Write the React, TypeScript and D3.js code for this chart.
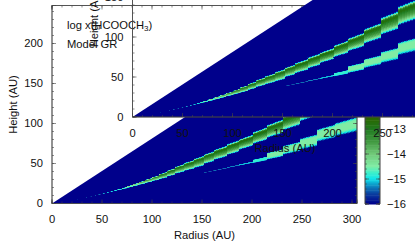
import { useEffect, useRef } from 'react';
import * as d3 from 'd3';

// radial bin edges of the model grid (AU)
const radiusEdges = [24, 26, 28, 30, 32, 35, 37, 40, 43, 46, 49, 53, 57, 61, 65, 70, 75, 81, 87, 93, 100, 107, 115, 123, 132, 142, 152, 162, 175, 187, 201, 215, 231, 248, 265, 283, 305];

// upper layer: z/r limits and peak log x per radial bin
const upperLow = [0.19, 0.195, 0.2, 0.205, 0.21, 0.215, 0.218, 0.22, 0.225, 0.23, 0.232, 0.235, 0.24, 0.243, 0.247, 0.25, 0.255, 0.26, 0.265, 0.27, 0.275, 0.28, 0.29, 0.3, 0.305, 0.31, 0.325, 0.335, 0.345, 0.358, 0.37, 0.38, 0.395, 0.413, 0.43, 0.44];
const upperHigh = [0.2, 0.205, 0.21, 0.215, 0.22, 0.225, 0.228, 0.232, 0.237, 0.243, 0.248, 0.252, 0.258, 0.264, 0.27, 0.278, 0.29, 0.3, 0.31, 0.32, 0.33, 0.345, 0.36, 0.375, 0.385, 0.395, 0.405, 0.415, 0.425, 0.43, 0.445, 0.457, 0.475, 0.5, 0.52, 0.53];
const upperPeak = [-15.8, -15.75, -15.7, -15.65, -15.6, -15.55, -15.5, -15.45, -15.4, -15.3, -15.2, -15.1, -15, -14.9, -14.7, -14.5, -14.2, -14, -13.7, -13.5, -13.3, -13.1, -13, -13, -12.9, -12.9, -12.9, -12.8, -12.8, -12.8, -12.8, -12.8, -12.8, -12.8, -12.8, -12.8];

// lower layer starts further out
const lowerEdges = [152, 162, 175, 187, 201, 215, 231, 248, 265, 283, 305];
const lowerLow = [0.25, 0.25, 0.252, 0.252, 0.25, 0.254, 0.263, 0.27, 0.29, 0.295];
const lowerHigh = [0.256, 0.257, 0.26, 0.262, 0.273, 0.295, 0.312, 0.327, 0.35, 0.355];
const lowerPeak = [-15.5, -15.4, -15.3, -15.1, -14.8, -14.5, -14.5, -14.5, -14.5, -14.5];

// vertical shape of a layer, bottom to top, fraction of (peak - floor)
const upperProfile = [0.1, 0.3, 0.42, 0.52, 0.6, 0.66, 0.72, 0.76, 0.8, 0.84, 0.88, 0.92, 0.96, 1, 1, 0.95, 0.78, 0.55, 0.3, 0.08];
const lowerProfile = [0.15, 0.45, 0.65, 0.8, 0.9, 0.95, 1, 1, 1, 1, 1, 1, 1, 1, 1, 0.98, 0.95, 0.85, 0.6, 0.2];

const colorStops = [-16, -15.6, -15.3, -15, -14.75, -14.5, -14, -13.5, -13, -12.6];
const colorValues = ['#00008b', '#0a3fa0', '#0c86c0', '#10e4ea', '#40f0c8', '#80eca4', '#70c878', '#40983f', '#1f7a1f', '#2a6600'];

const xTicks = [0, 50, 100, 150, 200, 250, 300];
const yTicks = [0, 50, 100, 150, 200];
const barTicks = [-16, -15, -14, -13];
const wedgeSlope = 0.812;
const floorLog = -16;

const FONT = '"Liberation Sans", Arial, sans-serif';
const FONT_SIZE = 11.2;
const AXIS = '#444';

const color = d3.scaleLinear<string>().domain(colorStops).range(colorValues).clamp(true);

function drawLayer(g, x, y, edges, low, high, peak, profile) {
  const rows = profile.length;
  low.forEach((lo, i) => {
    const r0 = edges[i];
    const r1 = edges[i + 1];
    const dz = (high[i] - lo) / rows;
    profile.forEach((frac, j) => {
      const a = lo + dz * j;
      const b = a + dz;
      const pts = [[r0, r0 * a], [r1, r1 * a], [r1, r1 * b], [r0, r0 * b]];
      g.append('path')
        .attr('d', d3.line().x(d => x(d[0])).y(d => y(d[1]))(pts) + 'Z')
        .attr('fill', color(floorLog + frac * (peak[i] - floorLog)));
    });
  });
}

function drawPanel(svg, id, ox, oy) {
  const w = 305;
  const h = 198;
  const x = d3.scaleLinear().domain([0, 305]).range([0, w]);
  const y = d3.scaleLinear().domain([0, 247.5]).range([h, 0]);

  const panel = svg.append('g').attr('transform', `translate(${ox},${oy})`);

  panel.append('clipPath').attr('id', id).append('rect').attr('width', w).attr('height', h);

  // slight softening, the original is an upsampled bitmap
  panel.append('filter').attr('id', `${id}-soft`)
    .append('feGaussianBlur').attr('stdDeviation', 0.35);

  const plot = panel.append('g').attr('clip-path', `url(#${id})`);

  const wedge = [[0, 0], [305, 305 * wedgeSlope], [305, 0]];
  plot.append('path')
    .attr('d', d3.line().x(d => x(d[0])).y(d => y(d[1]))(wedge) + 'Z')
    .attr('fill', colorValues[0]);

  const cells = plot.append('g')
    .attr('filter', `url(#${id}-soft)`)
    .attr('shape-rendering', 'crispEdges');

  drawLayer(cells, x, y, radiusEdges, upperLow, upperHigh, upperPeak, upperProfile);
  drawLayer(cells, x, y, lowerEdges, lowerLow, lowerHigh, lowerPeak, lowerProfile);

  const xMinor = d3.range(0, 305, 10);
  const yMinor = d3.range(0, 248, 10);

  const style = sel => {
    sel.selectAll('.domain').attr('stroke', AXIS).attr('stroke-width', 0.7);
    sel.selectAll('.tick line').attr('stroke', AXIS).attr('stroke-width', 0.6);
    sel.selectAll('text').attr('fill', '#111').attr('font-family', FONT).attr('font-size', FONT_SIZE);
  };

  const add = (axis, tx, ty) => panel.append('g').attr('transform', `translate(${tx},${ty})`).call(axis.offset(0)).call(style);

  // minors first, then majors with labels
  add(d3.axisBottom(x).tickValues(xMinor).tickSize(-2).tickFormat(() => ''), 0, h);
  add(d3.axisTop(x).tickValues(xMinor).tickSize(-2).tickFormat(() => ''), 0, 0);
  add(d3.axisLeft(y).tickValues(yMinor).tickSize(-2).tickFormat(() => ''), 0, 0);
  add(d3.axisRight(y).tickValues(yMinor).tickSize(-2).tickFormat(() => ''), w, 0);

  add(d3.axisBottom(x).tickValues(xTicks).tickSize(-4).tickPadding(12), 0, h);
  add(d3.axisTop(x).tickValues(xTicks).tickSize(-4).tickFormat(() => ''), 0, 0);
  add(d3.axisLeft(y).tickValues(yTicks).tickSize(-4).tickPadding(9), 0, 0);
  add(d3.axisRight(y).tickValues(yTicks).tickSize(-4).tickFormat(() => ''), w, 0);

  panel.append('text')
    .attr('x', w / 2)
    .attr('y', h + 35)
    .attr('text-anchor', 'middle')
    .attr('fill', '#111')
    .attr('font-family', FONT)
    .attr('font-size', FONT_SIZE)
    .text('Radius (AU)');

  panel.append('text')
    .attr('transform', `translate(-35,${h / 2}) rotate(-90)`)
    .attr('text-anchor', 'middle')
    .attr('fill', '#111')
    .attr('font-family', FONT)
    .attr('font-size', FONT_SIZE)
    .text('Height (AU)');
}

function drawColorbar(svg) {
  const y = d3.scaleLinear().domain([-16, -12.5]).range([204, 116.5]);
  const bar = svg.append('g').attr('transform', 'translate(365,0)');
  const barW = 15;
  const steps = d3.range(-16, -12.5, 0.05);

  bar.selectAll('rect')
    .data(steps)
    .join('rect')
    .attr('x', 0)
    .attr('width', barW)
    .attr('y', d => y(d + 0.05))
    .attr('height', d => y(d) - y(d + 0.05) + 0.5)
    .attr('fill', d => color(d));

  const minor = d3.range(-16, -12.5, 0.2);
  const style = sel => {
    sel.selectAll('.domain').attr('stroke', AXIS).attr('stroke-width', 0.6);
    sel.selectAll('.tick line').attr('stroke', AXIS).attr('stroke-width', 0.6);
    sel.selectAll('text').attr('fill', '#111').attr('font-family', FONT).attr('font-size', FONT_SIZE);
  };
  bar.append('g').call(d3.axisLeft(y).tickValues(minor).tickSize(-2).tickFormat(() => '').offset(0)).call(style);
  bar.append('g').attr('transform', `translate(${barW},0)`).call(d3.axisRight(y).tickValues(minor).tickSize(-2).tickFormat(() => '').offset(0)).call(style);
  bar.append('g').call(d3.axisLeft(y).tickValues(barTicks).tickSize(-4).tickFormat(() => '').offset(0)).call(style);
  bar.append('g')
    .attr('transform', `translate(${barW},0)`)
    .call(d3.axisRight(y).tickValues(barTicks).tickSize(-4).tickPadding(7).tickFormat(d3.format('d')).offset(0))
    .call(style);
}

export default function App() {
  const svgRef = useRef(null);

  useEffect(() => {
    const svg = d3.select(svgRef.current);
    svg.selectAll('*').remove();

    drawPanel(svg, 'main-clip', 52, 5.5);
    drawColorbar(svg);

    const note = svg.append('text')
      .attr('x', 67)
      .attr('y', 28.5)
      .attr('fill', '#111')
      .attr('font-family', FONT)
      .attr('font-size', FONT_SIZE);
    note.append('tspan').text('log x(HCOOCH');
    note.append('tspan').attr('dy', 2.5).attr('font-size', 8).text('3');
    note.append('tspan').attr('dy', -2.5).text(')');

    svg.append('text')
      .attr('x', 67)
      .attr('y', 48)
      .attr('fill', '#111')
      .attr('font-family', FONT)
      .attr('font-size', FONT_SIZE)
      .text('Model GR');

    // same plot pasted on top, its white is see-through
    drawPanel(svg, 'inset-clip', 132.5, -81);
  }, []);

  return (
    <svg
      ref={svgRef}
      width={415}
      height={242}
      style={{ position: 'absolute', left: 0, top: 0, background: '#fff' }}
    />
  );
}
